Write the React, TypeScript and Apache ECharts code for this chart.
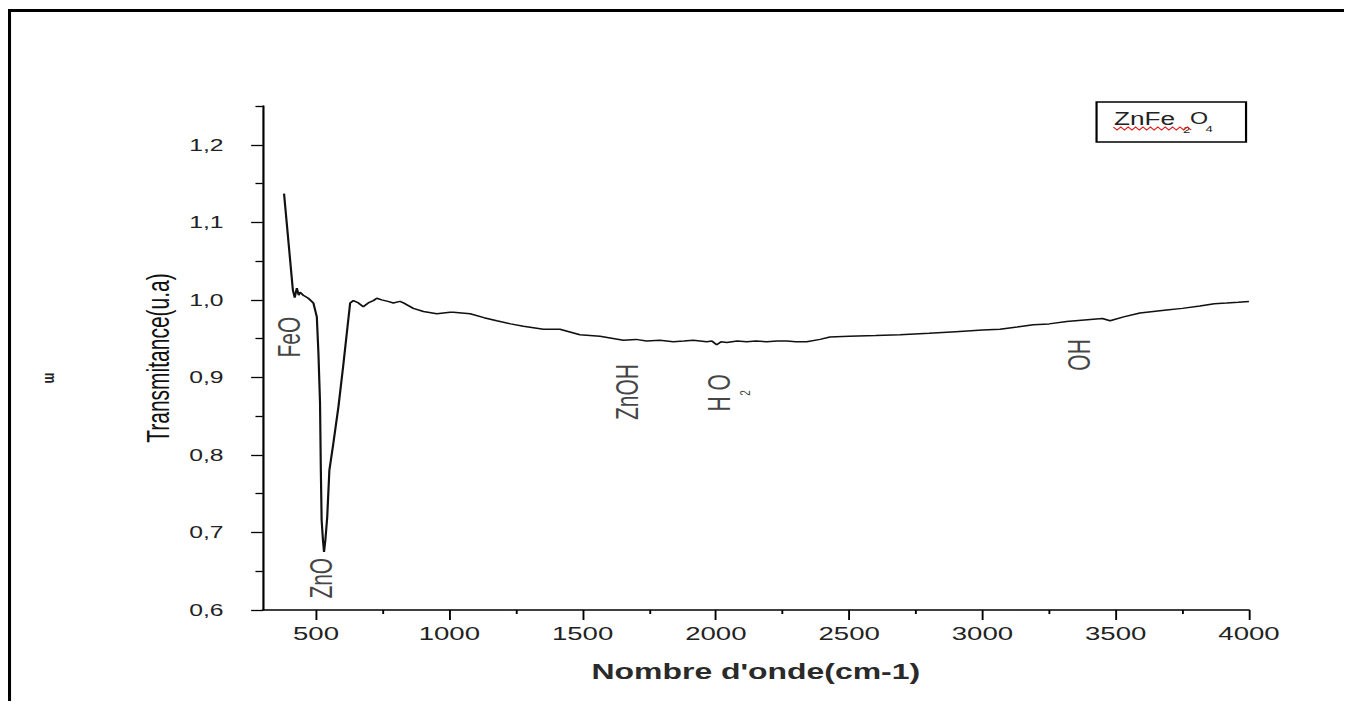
import React, { useEffect, useRef } from "react";
import * as echarts from "echarts";

const S = 1.4514;
const CW = 926;
const CH = 693;
const FONT = "'Liberation Sans', Arial, sans-serif";

const waveNumbers = [
  380, 413, 420, 428, 435, 440, 452, 471, 490, 503, 509, 515, 518, 521, 526, 530, 535, 542, 550, 565,
  584, 602, 618, 628, 640, 659, 677, 696, 715, 728, 746, 770, 790, 815, 828, 865, 903, 953, 1003, 1015,
  1078, 1130, 1178, 1230, 1278, 1353, 1415, 1490, 1565, 1653, 1700, 1740, 1790, 1840, 1880, 1915, 1966,
  1985, 2003, 2020, 2041, 2080, 2116, 2150, 2191, 2230, 2266, 2300, 2341, 2391, 2428, 2500, 2600, 2691,
  2800, 2900, 3000, 3066, 3130, 3191, 3250, 3316, 3416, 3450, 3479, 3530, 3591, 3691, 3750, 3816, 3870,
  3916, 3960, 4000,
];
const transmittance = [
  1.137, 1.013, 1.003, 1.015, 1.006, 1.01, 1.006, 1.002, 0.996, 0.978, 0.931, 0.867, 0.781, 0.716, 0.69,
  0.675, 0.69, 0.72, 0.78, 0.815, 0.862, 0.915, 0.965, 0.996, 0.999, 0.996, 0.991, 0.996, 0.999, 1.002,
  1.0, 0.998, 0.996, 0.998, 0.996, 0.989, 0.985, 0.982, 0.984, 0.984, 0.982, 0.977, 0.973, 0.969, 0.966,
  0.962, 0.962, 0.955, 0.953, 0.948, 0.949, 0.947, 0.948, 0.946, 0.947, 0.948, 0.946, 0.947, 0.942, 0.946,
  0.945, 0.947, 0.946, 0.947, 0.946, 0.947, 0.947, 0.946, 0.946, 0.949, 0.952, 0.953, 0.954, 0.955, 0.957,
  0.959, 0.961, 0.962, 0.965, 0.968, 0.969, 0.972, 0.975, 0.976, 0.973, 0.978, 0.983, 0.987, 0.989, 0.992,
  0.995, 0.996, 0.997, 0.998,
];

const xMajorTicks = [500, 1000, 1500, 2000, 2500, 3000, 3500, 4000];
const xMinorTicks = [750, 1250, 1750, 2250, 2750, 3250, 3750];
const yMajorTicks = [0.6, 0.7, 0.8, 0.9, 1.0, 1.1, 1.2];
const yMinorTicks = [0.65, 0.75, 0.85, 0.95, 1.05, 1.15, 1.25];

const annotationLabels = ["FeO", "ZnO", "ZnOH", "H O", "2", "OH"];
const annotationX = [399, 522, 1670, 2012, 2109, 3366];
const annotationY = [0.952, 0.641, 0.881, 0.88, 0.88, 0.929];
const annotationSize = [21, 21, 21, 21, 10, 21];

const xTitle = "Nombre d'onde(cm-1)";
const yTitle = "Transmitance(u.a)";

export default function App() {
  const ref = useRef<HTMLDivElement>(null);

  useEffect(() => {
    if (!ref.current) return;
    const chart = echarts.init(ref.current, undefined, { renderer: "svg" });
    const grid = { left: 175.5, right: 71, top: 98, bottom: 91 };
    const axisLineStyle = { color: "#000", width: 1.5 };
    const fmtY = (v: number) => v.toFixed(1).replace(".", ",");
    const fmtX = (v: number) => String(Math.round(v));

    // wavy spell-check underline under the legend text
    const zig: number[][] = [];
    for (let i = 0; i <= 21; i++) {
      zig.push([761.6 + i * 2.55, i % 2 === 0 ? 119 : 122]);
    }

    chart.setOption({
      animation: false,
      backgroundColor: "#fff",
      grid,
      xAxis: [
        {
          type: "value",
          min: 300,
          max: 4000,
          position: "bottom",
          axisLine: { show: true, onZero: false, lineStyle: axisLineStyle },
          axisTick: { show: true, customValues: xMajorTicks, length: 10, lineStyle: { color: "#000", width: 1.3 } },
          axisLabel: {
            show: true,
            customValues: xMajorTicks,
            formatter: fmtX,
            margin: 14,
            fontSize: 19,
            color: "#222",
            fontFamily: FONT,
          },
          splitLine: { show: false },
          name: xTitle,
          nameLocation: "middle",
          nameGap: 50,
          nameTextStyle: { fontSize: 22, fontWeight: "bold", color: "#2a2a2a", fontFamily: FONT },
        },
        {
          type: "value",
          min: 300,
          max: 4000,
          position: "bottom",
          axisLine: { show: false, onZero: false },
          axisTick: { show: true, customValues: xMinorTicks, length: 4, lineStyle: { color: "#000", width: 1.3 } },
          axisLabel: { show: false },
          splitLine: { show: false },
        },
      ],
      yAxis: [
        {
          type: "value",
          min: 0.6,
          max: 1.25,
          position: "left",
          axisLine: { show: true, onZero: false, lineStyle: axisLineStyle },
          axisTick: { show: true, customValues: yMajorTicks, length: 8, lineStyle: { color: "#000", width: 1.3 } },
          axisLabel: {
            show: true,
            customValues: yMajorTicks,
            formatter: fmtY,
            margin: 27,
            fontSize: 17,
            color: "#222",
            fontFamily: FONT,
          },
          splitLine: { show: false },
          name: yTitle,
          nameLocation: "middle",
          nameRotate: 90,
          nameGap: 58,
          nameTextStyle: { fontSize: 21, color: "#111", fontFamily: FONT },
        },
        {
          type: "value",
          min: 0.6,
          max: 1.25,
          position: "left",
          axisLine: { show: false, onZero: false },
          axisTick: { show: true, customValues: yMinorTicks, length: 5, lineStyle: { color: "#000", width: 1.3 } },
          axisLabel: { show: false },
          splitLine: { show: false },
        },
      ],
      series: [
        {
          type: "line",
          xAxisIndex: 0,
          yAxisIndex: 0,
          data: waveNumbers.map((x, i) => [x, transmittance[i]]),
          showSymbol: false,
          symbol: "none",
          lineStyle: { color: "#111", width: 1.5 },
          silent: true,
        },
        {
          type: "scatter",
          xAxisIndex: 0,
          yAxisIndex: 0,
          symbolSize: 1,
          itemStyle: { color: "rgba(0,0,0,0)" },
          silent: true,
          z: 5,
          data: annotationLabels.map((name, i) => ({
            name,
            value: [annotationX[i], annotationY[i]],
            label: { fontSize: annotationSize[i] },
          })),
          label: {
            show: true,
            position: "inside",
            rotate: 90,
            formatter: "{b}",
            color: "#111",
            fontFamily: FONT,
          },
        },
      ],
      graphic: [
        // outer frame (left and top edges only)
        { type: "line", shape: { x1: 1.05, y1: 1, x2: 1.05, y2: 720 }, style: { stroke: "#000", lineWidth: 2.1 }, z: 20 },
        { type: "line", shape: { x1: 0, y1: 2.5, x2: 940, y2: 2.5 }, style: { stroke: "#000", lineWidth: 3 }, z: 20 },
        {
          type: "rect",
          shape: { x: 750, y: 94, width: 103, height: 40 },
          style: { fill: "#fff", stroke: "#000", lineWidth: 1.5 },
          z: 10,
        },
        { type: "text", x: 762, y: 110.5, style: { text: "ZnFe", fontSize: 18, fill: "#222", fontFamily: FONT, verticalAlign: "middle" }, z: 11 },
        { type: "text", x: 809.6, y: 122, style: { text: "2", fontSize: 9, fill: "#222", fontFamily: FONT, verticalAlign: "middle" }, z: 11 },
        { type: "text", x: 814.4, y: 110.5, style: { text: "O", fontSize: 16, fill: "#222", fontFamily: FONT, verticalAlign: "middle" }, z: 11 },
        { type: "text", x: 825, y: 121, style: { text: "4", fontSize: 9, fill: "#222", fontFamily: FONT, verticalAlign: "middle" }, z: 11 },
        { type: "polyline", shape: { points: zig }, style: { stroke: "#e02020", lineWidth: 1, fill: "none" }, z: 12 },
        {
          type: "text",
          x: 30,
          y: 370,
          rotation: -Math.PI / 2,
          style: { text: "m", fontSize: 12, fontWeight: "bold", fill: "#222", fontFamily: FONT, align: "center", verticalAlign: "middle" },
        },
      ],
    });
    return () => chart.dispose();
  }, []);

  return (
    <div style={{ position: "relative", width: 1336, height: 693, overflow: "hidden", background: "#fff" }}>
      <div
        ref={ref}
        style={{
          position: "absolute",
          left: 0,
          top: 0,
          width: CW,
          height: CH,
          transform: `scaleX(${S})`,
          transformOrigin: "0 0",
        }}
      />
    </div>
  );
}
